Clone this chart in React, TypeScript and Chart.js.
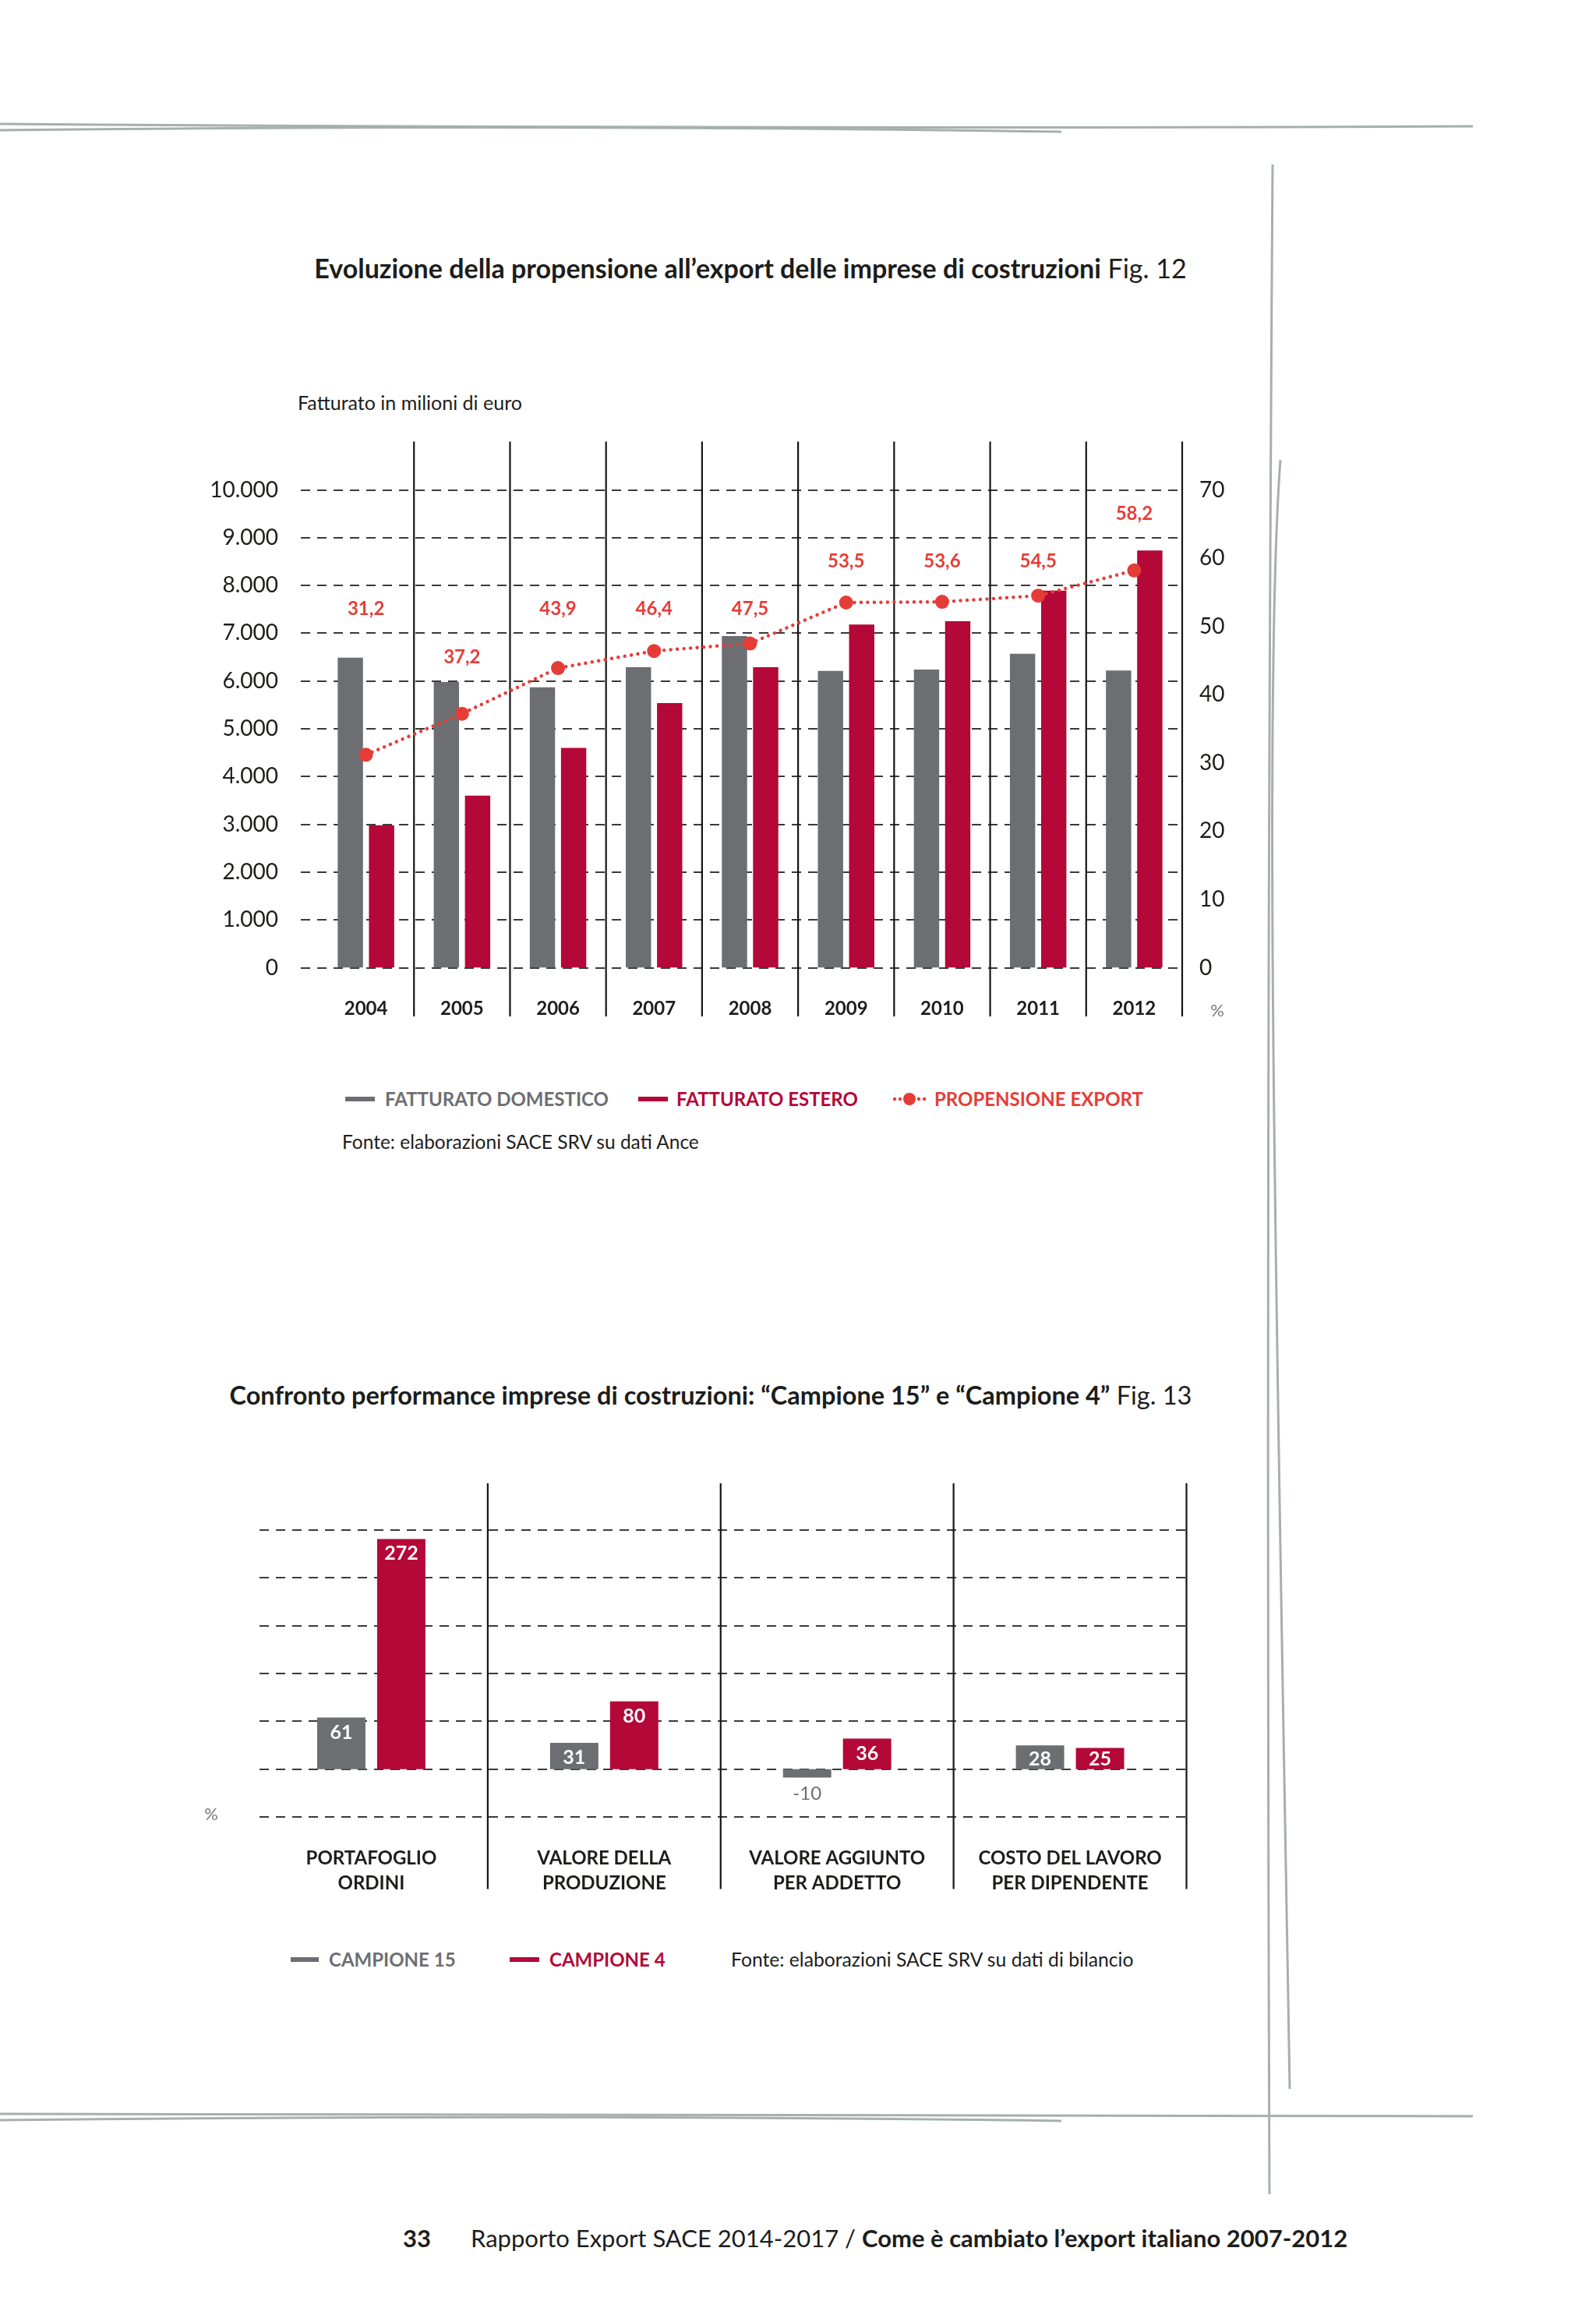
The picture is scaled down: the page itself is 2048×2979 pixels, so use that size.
import React, { useEffect, useRef } from 'react';
import { Chart, registerables } from 'chart.js';

Chart.register(...registerables);

// ---------- data ----------
const years = ['2004', '2005', '2006', '2007', '2008', '2009', '2010', '2011', '2012'];
const fatturatoDomestico = [6490, 5980, 5870, 6290, 6940, 6210, 6240, 6570, 6220];
const fatturatoEstero = [2980, 3600, 4600, 5540, 6290, 7180, 7250, 7890, 8730];
const propensioneExport = [31.2, 37.2, 43.9, 46.4, 47.5, 53.5, 53.6, 54.5, 58.2];
const leftTicks = [0, 1000, 2000, 3000, 4000, 5000, 6000, 7000, 8000, 9000, 10000];
const rightTicks = [0, 10, 20, 30, 40, 50, 60, 70];

const perfCategories = [
  ['PORTAFOGLIO', 'ORDINI'],
  ['VALORE DELLA', 'PRODUZIONE'],
  ['VALORE AGGIUNTO', 'PER ADDETTO'],
  ['COSTO DEL LAVORO', 'PER DIPENDENTE'],
];
const campione15 = [61, 31, -10, 28];
const campione4 = [272, 80, 36, 25];
const perfGridValues = [-56.5, 0, 56.5, 113, 169.5, 226, 282.5];

// ---------- styles ----------
const FONT = 'Lato, "Open Sans", "Noto Sans", sans-serif';
const GREY = '#6d6e71';
const CRIMSON = '#b30838';
const RED = '#e63c37';
const INK = '#1d1d1b';
const DASH = '#3a3a3a';
const DECOR = '#a7afad';

const fmtThousands = (v: number) => String(v).replace(/\B(?=(\d{3})+(?!\d))/g, '.');
const fmtDecimal = (v: number) => v.toFixed(1).replace('.', ',');

const exportPlugin = {
  id: 'exportDecor',
  beforeDatasetsDraw(chart: any) {
    const { ctx, chartArea: a, scales } = chart;
    const y = scales.y;
    const x = scales.x;
    ctx.save();
    ctx.strokeStyle = DASH;
    ctx.lineWidth = 2;
    ctx.setLineDash([12, 9]);
    leftTicks.forEach((v) => {
      const py = Math.round(y.getPixelForValue(v));
      ctx.beginPath();
      ctx.moveTo(a.left - 22, py);
      ctx.lineTo(a.right, py);
      ctx.stroke();
    });
    ctx.setLineDash([]);
    ctx.strokeStyle = '#151515';
    ctx.lineWidth = 2.2;
    const n = years.length;
    for (let i = 1; i <= n; i++) {
      const px =
        i < n
          ? (x.getPixelForValue(i - 1) + x.getPixelForValue(i)) / 2
          : a.right;
      ctx.beginPath();
      ctx.moveTo(px, a.top - 62);
      ctx.lineTo(px, a.bottom + 62.5);
      ctx.stroke();
    }
    ctx.restore();
  },
  afterDatasetsDraw(chart: any) {
    const { ctx, scales } = chart;
    const y = scales.y;
    const y1 = scales.y1;
    const meta = chart.getDatasetMeta(0);
    const step = leftTicks[1] - leftTicks[0];
    ctx.save();
    ctx.fillStyle = RED;
    ctx.font = `bold 24px ${FONT}`;
    ctx.textAlign = 'center';
    ctx.textBaseline = 'middle';
    propensioneExport.forEach((v, i) => {
      const topPx = Math.min(
        y.getPixelForValue(fatturatoDomestico[i]),
        y.getPixelForValue(fatturatoEstero[i]),
        y1.getPixelForValue(v)
      );
      const topVal = y.getValueForPixel(topPx);
      const band = Math.floor(topVal / step) + 1;
      const ly = y.getPixelForValue((band + 0.5) * step);
      ctx.fillText(fmtDecimal(v), meta.data[i].x, ly);
    });
    ctx.restore();
  },
};

const perfPlugin = {
  id: 'perfDecor',
  beforeDatasetsDraw(chart: any) {
    const { ctx, chartArea: a, scales } = chart;
    const y = scales.y;
    const x = scales.x;
    ctx.save();
    ctx.strokeStyle = DASH;
    ctx.lineWidth = 2;
    ctx.setLineDash([12, 9]);
    perfGridValues.forEach((v) => {
      const py = Math.round(y.getPixelForValue(v));
      ctx.beginPath();
      ctx.moveTo(a.left + 6, py);
      ctx.lineTo(a.right, py);
      ctx.stroke();
    });
    ctx.setLineDash([]);
    ctx.strokeStyle = '#151515';
    ctx.lineWidth = 2.2;
    const n = perfCategories.length;
    for (let i = 1; i <= n; i++) {
      const px =
        i < n
          ? (x.getPixelForValue(i - 1) + x.getPixelForValue(i)) / 2
          : a.right;
      ctx.beginPath();
      ctx.moveTo(px, a.top - 60);
      ctx.lineTo(px, a.bottom + 92.5);
      ctx.stroke();
    }
    ctx.restore();
  },
  afterDatasetsDraw(chart: any) {
    const { ctx } = chart;
    ctx.save();
    ctx.textAlign = 'center';
    ctx.textBaseline = 'middle';
    [0, 1].forEach((d) => {
      const meta = chart.getDatasetMeta(d);
      const values = d === 0 ? campione15 : campione4;
      meta.data.forEach((bar: any, i: number) => {
        const v = values[i];
        if (v >= 0) {
          ctx.fillStyle = '#ffffff';
          ctx.font = `bold 25px ${FONT}`;
          const cy = Math.min(bar.y + 19, bar.base - 13);
          ctx.fillText(String(v), bar.x, cy);
        } else {
          ctx.fillStyle = GREY;
          ctx.font = `24px ${FONT}`;
          ctx.fillText(String(v), bar.x, bar.y + 21);
        }
      });
    });
    ctx.restore();
  },
};

function ExportChart() {
  const ref = useRef<HTMLCanvasElement | null>(null);
  useEffect(() => {
    if (!ref.current) return;
    const chart = new Chart(ref.current, {
      type: 'bar',
      data: {
        labels: years,
        datasets: [
          {
            type: 'line',
            label: 'PROPENSIONE EXPORT',
            data: propensioneExport,
            yAxisID: 'y1',
            borderColor: RED,
            borderWidth: 4.5,
            borderDash: [0.01, 8.5],
            borderCapStyle: 'round',
            pointRadius: 9,
            pointBackgroundColor: RED,
            pointBorderColor: RED,
            pointBorderWidth: 0,
            tension: 0,
            order: 0,
          } as any,
          {
            label: 'FATTURATO DOMESTICO',
            data: fatturatoDomestico,
            backgroundColor: GREY,
            yAxisID: 'y',
            categoryPercentage: 0.65,
            barPercentage: 0.81,
            order: 1,
          },
          {
            label: 'FATTURATO ESTERO',
            data: fatturatoEstero,
            backgroundColor: CRIMSON,
            yAxisID: 'y',
            categoryPercentage: 0.65,
            barPercentage: 0.81,
            order: 1,
          },
        ],
      },
      options: {
        animation: false,
        responsive: false,
        maintainAspectRatio: false,
        layout: { padding: { top: 88.5, left: 0, right: 0, bottom: 0 } },
        plugins: { legend: { display: false }, tooltip: { enabled: false } },
        scales: {
          x: {
            offset: true,
            grid: { display: false, drawTicks: false },
            border: { display: false },
            ticks: { font: { family: FONT, size: 24, weight: 'bold' }, color: INK, padding: 38 },
            afterFit: (s: any) => {
              s.height = 98.5;
            },
          },
          y: {
            position: 'left',
            min: 0,
            max: 10000,
            afterBuildTicks: (s: any) => {
              s.ticks = leftTicks.map((v) => ({ value: v }));
            },
            ticks: {
              callback: (v: any) => fmtThousands(Number(v)),
              font: { family: FONT, size: 28 },
              color: INK,
              padding: 51,
            },
            grid: { display: false, drawTicks: false },
            border: { display: false },
            afterFit: (s: any) => {
              s.width = 178;
            },
          },
          y1: {
            position: 'right',
            min: 0,
            max: 70,
            afterBuildTicks: (s: any) => {
              s.ticks = rightTicks.map((v) => ({ value: v }));
            },
            ticks: { font: { family: FONT, size: 28 }, color: INK, padding: 22 },
            grid: { display: false, drawTicks: false },
            border: { display: false },
            afterFit: (s: any) => {
              s.width = 103;
            },
          },
        },
      } as any,
      plugins: [exportPlugin],
    });
    return () => chart.destroy();
  }, []);
  return (
    <canvas
      ref={ref}
      width={1390}
      height={800}
      style={{ position: 'absolute', left: 230, top: 540, width: 1390, height: 800 }}
    />
  );
}

function PerfChart() {
  const ref = useRef<HTMLCanvasElement | null>(null);
  useEffect(() => {
    if (!ref.current) return;
    const chart = new Chart(ref.current, {
      type: 'bar',
      data: {
        labels: perfCategories as any,
        datasets: [
          {
            label: 'CAMPIONE 15',
            data: campione15,
            backgroundColor: GREY,
            categoryPercentage: 0.515,
            barPercentage: 0.805,
          },
          {
            label: 'CAMPIONE 4',
            data: campione4,
            backgroundColor: CRIMSON,
            categoryPercentage: 0.515,
            barPercentage: 0.805,
          },
        ],
      },
      options: {
        animation: false,
        responsive: false,
        maintainAspectRatio: false,
        layout: { padding: { top: 83, left: 0, right: 57.5, bottom: 0 } },
        plugins: { legend: { display: false }, tooltip: { enabled: false } },
        scales: {
          x: {
            offset: true,
            grid: { display: false, drawTicks: false },
            border: { display: false },
            ticks: {
              font: { family: FONT, size: 24, weight: 'bold', lineHeight: 1.333 },
              color: INK,
              padding: 37,
              maxRotation: 0,
              autoSkip: false,
            },
            afterFit: (s: any) => {
              s.height = 149;
            },
          },
          y: {
            min: perfGridValues[0],
            max: perfGridValues[perfGridValues.length - 1],
            ticks: { display: false },
            grid: { display: false, drawTicks: false },
            border: { display: false },
            afterFit: (s: any) => {
              s.width = 77;
            },
          },
        },
      } as any,
      plugins: [perfPlugin],
    });
    return () => chart.destroy();
  }, []);
  return (
    <canvas
      ref={ref}
      width={1330}
      height={600}
      style={{ position: 'absolute', left: 250, top: 1880, width: 1330, height: 600 }}
    />
  );
}

type TProps = {
  x: number;
  y: number;
  size: number;
  weight?: number;
  color?: string;
  align?: 'left' | 'center' | 'right';
  children: React.ReactNode;
};
function T({ x, y, size, weight = 400, color = INK, align = 'left', children }: TProps) {
  const tx = align === 'center' ? '-50%' : align === 'right' ? '-100%' : '0';
  return (
    <div
      style={{
        position: 'absolute',
        left: x,
        top: y,
        transform: `translate(${tx}, -50%)`,
        fontSize: size,
        fontWeight: weight,
        color,
        whiteSpace: 'nowrap',
        lineHeight: 1,
      }}
    >
      {children}
    </div>
  );
}

function Swatch({ x1, x2, y, color }: { x1: number; x2: number; y: number; color: string }) {
  return (
    <div
      style={{ position: 'absolute', left: x1, top: y - 3, width: x2 - x1, height: 6, background: color }}
    />
  );
}

export default function App() {
  return (
    <div
      style={{
        position: 'absolute',
        left: 0,
        top: 0,
        width: 2048,
        height: 2979,
        background: '#ffffff',
        fontFamily: FONT,
        color: INK,
        overflow: 'hidden',
      }}
    >
      <svg
        width={2048}
        height={2979}
        style={{ position: 'absolute', left: 0, top: 0 }}
      >
        <g fill="none" stroke={DECOR} strokeWidth={3}>
          <path d="M0 159 Q 950 166 1890 162" />
          <path d="M0 167 Q 700 159 1362 169" />
          <path d="M0 2712 Q 950 2717 1890 2715" />
          <path d="M0 2720 Q 700 2712 1362 2721" />
          <path d="M1633 211 Q 1624 1500 1629 2815" />
          <path d="M1643 590 C 1620 900, 1640 1800, 1655 2680" />
        </g>
      </svg>

      <T x={963} y={344} size={34} align="center">
        <span style={{ fontWeight: 700 }}>
          Evoluzione della propensione all’export delle imprese di costruzioni
        </span>{' '}
        Fig. 12
      </T>
      <T x={382} y={516} size={25}>
        Fatturato in milioni di euro
      </T>

      <ExportChart />

      <T x={1562} y={1296} size={22} color="#777" align="center">
        %
      </T>

      <Swatch x1={443} x2={481} y={1410} color={GREY} />
      <T x={494} y={1410} size={24} weight={700} color={GREY}>
        FATTURATO DOMESTICO
      </T>
      <Swatch x1={819} x2={857} y={1410} color={CRIMSON} />
      <T x={868} y={1410} size={24} weight={700} color={CRIMSON}>
        FATTURATO ESTERO
      </T>
      <svg width={50} height={24} style={{ position: 'absolute', left: 1142, top: 1398 }}>
        <g fill={RED}>
          <circle cx={6} cy={12} r={2.2} />
          <circle cx={13} cy={12} r={2.2} />
          <circle cx={25} cy={12} r={8} />
          <circle cx={37} cy={12} r={2.2} />
          <circle cx={44} cy={12} r={2.2} />
        </g>
      </svg>
      <T x={1199} y={1410} size={24} weight={700} color={RED}>
        PROPENSIONE EXPORT
      </T>
      <T x={439} y={1465} size={24.5}>
        Fonte: elaborazioni SACE SRV su dati Ance
      </T>

      <T x={912} y={1790} size={32.5} align="center">
        <span style={{ fontWeight: 700 }}>
          Confronto performance imprese di costruzioni: “Campione 15” e “Campione 4”
        </span>{' '}
        Fig. 13
      </T>

      <PerfChart />

      <T x={271} y={2327} size={22} color="#777" align="center">
        %
      </T>

      <Swatch x1={373} x2={409} y={2514} color={GREY} />
      <T x={422} y={2514} size={24} weight={700} color={GREY}>
        CAMPIONE 15
      </T>
      <Swatch x1={654} x2={692} y={2514} color={CRIMSON} />
      <T x={705} y={2514} size={24} weight={700} color={CRIMSON}>
        CAMPIONE 4
      </T>
      <T x={938} y={2514} size={24.7}>
        Fonte: elaborazioni SACE SRV su dati di bilancio
      </T>

      <T x={517} y={2871} size={31} weight={700}>
        33
      </T>
      <T x={604} y={2871} size={31}>
        Rapporto Export SACE 2014-2017 /{' '}
        <span style={{ fontWeight: 700 }}>Come è cambiato l’export italiano 2007-2012</span>
      </T>
    </div>
  );
}
